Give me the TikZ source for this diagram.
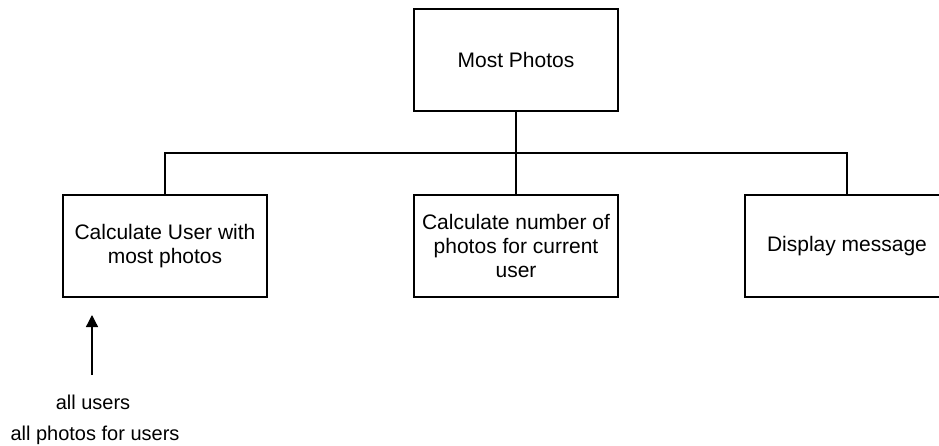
\documentclass[tikz,border=0pt]{standalone}
\usepackage{fontspec}
\setmainfont{Liberation Sans}
\usetikzlibrary{arrows.meta}
\tikzset{
  box/.style={draw, line width=1.3pt, minimum width=204pt, minimum height=102pt,
    align=center, font=\fontsize{21}{24}\selectfont},
  note/.style={font=\fontsize{20}{24}\selectfont}
}
\begin{document}
\begin{tikzpicture}[x=1pt, y=-1pt, line width=1.3pt]
\clip (0,0) rectangle (939,445);

\node[box] (most) at (516,60) {Most Photos};
\node[box] (withmost) at (165,246) {Calculate User with\\most photos};
\node[box] (number) at (516,246) {Calculate number of\\photos for current\\user};
\node[box] (display) at (847,246) {Display message};

\coordinate (bar) at (516,153);
\draw (most) -- (bar);
\draw (bar) -| (withmost.north);
\draw (bar) -- (number);
\draw (bar) -| (display.north);

\node[note] (users) at (93,402) {all users};
\node[note] (photos) at (95,435) {all photos for users};
\coordinate (intail) at (92,375);
\coordinate (inhead) at (92,315);
\draw[-{Triangle[length=12pt,width=12pt]}] (intail) -- (inhead);
\end{tikzpicture}
\end{document}
